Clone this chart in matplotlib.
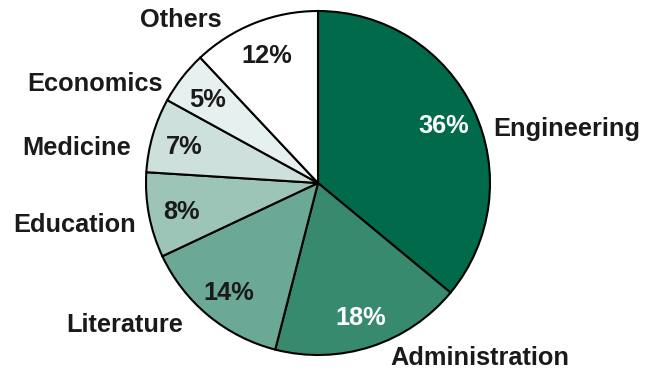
import matplotlib.pyplot as plt

# discipline shares (%), clockwise from 12 o'clock
fields = ['Engineering', 'Administration', 'Literature', 'Education',
          'Medicine', 'Economics', 'Others']
shares = [36, 18, 14, 8, 7, 5, 12]
colors = ['#006a4b', '#388a6f', '#6ba896', '#9cc5b8', '#cde0db', '#e6f0ee', '#ffffff']
pct_colors = ['white', 'white', '#1a1a1a', '#1a1a1a', '#1a1a1a', '#1a1a1a', '#1a1a1a']

# where the category names sit (pie radius = 1)
name_pos = [(1.02, 0.33, 'left'), (0.42, -1.005, 'left'), (-0.785, -0.81, 'right'),
            (-1.06, -0.23, 'right'), (-1.09, 0.22, 'right'), (-0.90, 0.59, 'right'),
            (-0.56, 0.96, 'right')]

plt.rcParams['font.family'] = ['Liberation Sans', 'DejaVu Sans']

fig = plt.figure(figsize=(6.48, 3.71), dpi=100)
r = 172
ax = fig.add_axes([(318 - r) / 648, (188 - r) / 371, 2 * r / 648, 2 * r / 371])

wedges, texts, autotexts = ax.pie(
    shares, colors=colors, startangle=90, counterclock=False,
    autopct='%d%%', pctdistance=0.81,
    wedgeprops=dict(edgecolor='black', linewidth=1.5),
    textprops=dict(fontsize=18.3, fontweight='bold'))

for t, c in zip(autotexts, pct_colors):
    t.set_color(c)
    t.set_va('center_baseline')

for name, (x, y, ha) in zip(fields, name_pos):
    ax.text(x, y, name, ha=ha, va='center_baseline', fontsize=18.3, fontweight='bold',
            color='#1a1a1a', clip_on=False)

ax.set_xlim(-1, 1)
ax.set_ylim(-1, 1)
ax.axis('off')

fig.savefig('out.png', dpi=100)
